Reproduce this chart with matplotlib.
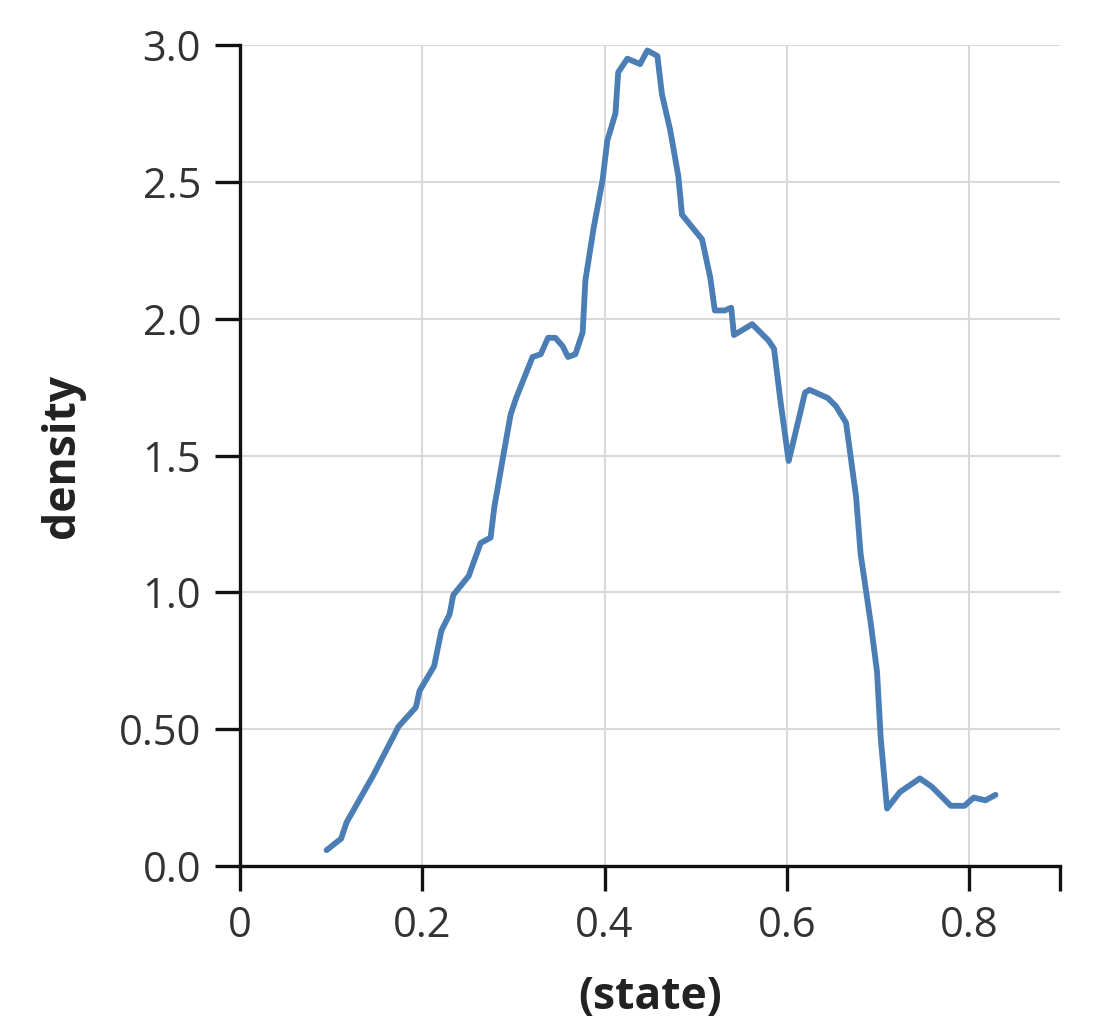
import matplotlib
matplotlib.use("Agg")
import matplotlib.pyplot as plt
from matplotlib.ticker import FixedLocator, FixedFormatter

plt.rcParams['font.family'] = ['Open Sans', 'DejaVu Sans']

# density curve
state = [0.095, 0.111, 0.117, 0.146, 0.174, 0.193, 0.197, 0.213, 0.221, 0.230,
         0.234, 0.251, 0.264, 0.275, 0.279, 0.290, 0.297, 0.303, 0.321, 0.330,
         0.338, 0.346, 0.354, 0.360, 0.368, 0.376, 0.379, 0.388, 0.398, 0.403,
         0.412, 0.415, 0.425, 0.439, 0.447, 0.458, 0.463, 0.472, 0.481, 0.485,
         0.507, 0.516, 0.521, 0.532, 0.539, 0.542, 0.562, 0.580, 0.586, 0.593,
         0.602, 0.605, 0.620, 0.625, 0.645, 0.654, 0.665, 0.676, 0.681, 0.692,
         0.699, 0.703, 0.710, 0.724, 0.746, 0.759, 0.780, 0.795, 0.805, 0.818,
         0.829]
density = [0.058, 0.10, 0.16, 0.33, 0.51, 0.58, 0.64, 0.73, 0.86, 0.92,
           0.99, 1.06, 1.18, 1.20, 1.31, 1.52, 1.65, 1.71, 1.86, 1.87,
           1.93, 1.93, 1.90, 1.86, 1.87, 1.95, 2.14, 2.33, 2.51, 2.65,
           2.75, 2.90, 2.95, 2.93, 2.98, 2.96, 2.82, 2.69, 2.52, 2.38,
           2.29, 2.15, 2.03, 2.03, 2.04, 1.94, 1.98, 1.92, 1.89, 1.70,
           1.48, 1.52, 1.73, 1.74, 1.71, 1.68, 1.62, 1.35, 1.14, 0.89,
           0.71, 0.47, 0.21, 0.27, 0.32, 0.29, 0.22, 0.22, 0.25, 0.24,
           0.26]

x_ticks = [0, 0.2, 0.4, 0.6, 0.8]
x_labels = ['0', '0.2', '0.4', '0.6', '0.8']
y_ticks = [0, 0.5, 1.0, 1.5, 2.0, 2.5, 3.0]
y_labels = ['0.0', '0.50', '1.0', '1.5', '2.0', '2.5', '3.0']

fig = plt.figure(figsize=(11.09, 10.18), dpi=100)
ax = fig.add_axes([0.2164, 0.1493, 0.7396, 0.8065])

ax.plot(state, density, color='#4a7eb5', linewidth=4.2, solid_joinstyle='round',
        solid_capstyle='round')

ax.set_xlim(0, 0.9)
ax.set_ylim(0, 3.0)

ax.xaxis.set_major_locator(FixedLocator(x_ticks))
ax.xaxis.set_major_formatter(FixedFormatter(x_labels))
ax.xaxis.set_minor_locator(FixedLocator([0.9]))
ax.yaxis.set_major_locator(FixedLocator(y_ticks))
ax.yaxis.set_major_formatter(FixedFormatter(y_labels))

ax.grid(True, which='major', color='#d9d9d9', linewidth=1.5)
ax.set_axisbelow(True)

for side in ['top', 'right']:
    ax.spines[side].set_visible(False)
for side in ['left', 'bottom']:
    ax.spines[side].set_linewidth(2.4)
    ax.spines[side].set_color('#111111')

ax.tick_params(axis='both', which='both', direction='out', length=18, width=2.4,
               color='#111111', labelsize=30, labelcolor='#333333')
ax.tick_params(axis='x', which='both', pad=10)
ax.tick_params(axis='y', which='major', pad=10)

ax.set_xlabel('(state)', fontsize=32, fontweight='bold', color='#222222', labelpad=20)
ax.set_ylabel('density', fontsize=32, fontweight='bold', color='#222222', labelpad=24)

fig.savefig('out.png', dpi=100)
